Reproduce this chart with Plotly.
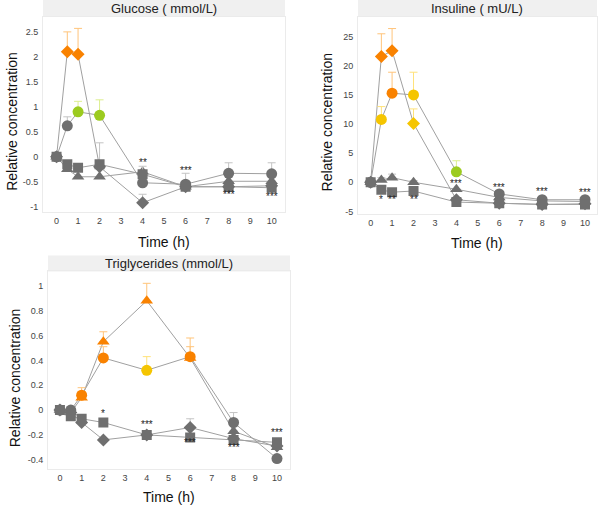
import plotly.graph_objects as go

# sampling times (h)
TIME = [0, 0.5, 1, 2, 4, 6, 8, 10]
X_TICKS = [0, 1, 2, 3, 4, 5, 6, 7, 8, 9, 10]

# point colour classes: g = grey, o = orange, y = yellow, l = lime
# --- Glucose ---
GLU_TRI = [0, -0.25, -0.4, -0.4, -0.3, -0.6, -0.49, -0.49]
GLU_TRI_ERR = [0, 0, 0, 0, 0, 0, 0, 0]
GLU_TRI_COL = ["g", "g", "g", "g", "g", "g", "g", "g"]
GLU_DIA = [0, 2.1, 2.05, -0.2, -0.92, -0.6, -0.6, -0.58]
GLU_DIA_ERR = [0, 0.4, 0.52, 0.48, 0.17, 0, 0, 0]
GLU_DIA_COL = ["g", "o", "o", "g", "g", "g", "g", "g"]
GLU_CIR = [0, 0.62, 0.9, 0.83, -0.52, -0.55, -0.33, -0.34]
GLU_CIR_ERR = [0, 0.18, 0.21, 0.31, 0, 0.22, 0.21, 0.22]
GLU_CIR_COL = ["g", "g", "l", "l", "g", "g", "g", "g"]
GLU_SQ = [0, -0.15, -0.22, -0.15, -0.35, -0.6, -0.6, -0.62]
GLU_SQ_ERR = [0, 0, 0, 0, 0.16, 0, 0, 0]
GLU_SQ_COL = ["g", "g", "g", "g", "g", "g", "g", "g"]
GLU_Y_TICKS = [-1, -0.5, 0, 0.5, 1, 1.5, 2, 2.5]
GLU_Y_LABELS = ["-1", "-0.5", "0", "0.5", "1", "1.5", "2", "2.5"]
GLU_SIG_T = [4, 6, 8, 10]
GLU_SIG_Y = [-0.12, -0.28, -0.76, -0.8]
GLU_SIG_TXT = ["**", "***", "***", "***"]

# --- Insuline ---
INS_TRI = [0, 0.4, 0.8, 0.0, -1.2, -2.6, -3.2, -3.3]
INS_TRI_ERR = [0, 0.4, 0.6, 0.3, 0, 0, 0, 0]
INS_TRI_COL = ["g", "g", "g", "g", "g", "g", "g", "g"]
INS_DIA = [0, 21.6, 22.6, 10.1, -3.0, -3.6, -3.8, -3.7]
INS_DIA_ERR = [0, 3.9, 3.8, 2.5, 0, 0, 0, 0]
INS_DIA_COL = ["g", "o", "o", "y", "g", "g", "g", "g"]
INS_CIR = [0, 10.8, 15.3, 15.0, 1.8, -2.0, -3.0, -3.0]
INS_CIR_ERR = [0, 2.2, 3.6, 3.9, 1.9, 0, 0, 0]
INS_CIR_COL = ["g", "y", "o", "y", "l", "g", "g", "g"]
INS_SQ = [0, -1.3, -1.7, -1.5, -3.4, -3.6, -3.8, -3.8]
INS_SQ_ERR = [0, 0, 0, 0, 0, 0, 0, 0]
INS_SQ_COL = ["g", "g", "g", "g", "g", "g", "g", "g"]
INS_Y_TICKS = [-5, 0, 5, 10, 15, 20, 25]
INS_Y_LABELS = ["-5", "0", "5", "10", "15", "20", "25"]
INS_SIG_T = [0.5, 1, 2, 4, 6, 8, 10]
INS_SIG_Y = [-3.0, -3.0, -3.0, -0.2, -0.9, -1.5, -1.7]
INS_SIG_TXT = ["*", "**", "**", "***", "***", "***", "***"]

# --- Triglycerides ---
TG_TRI = [0, -0.02, 0.1, 0.55, 0.88, 0.42, -0.17, -0.3]
TG_TRI_ERR = [0, 0, 0.05, 0.08, 0.14, 0.09, 0, 0]
TG_TRI_COL = ["g", "g", "o", "o", "o", "o", "g", "g"]
TG_DIA = [0, -0.02, -0.1, -0.24, -0.2, -0.14, -0.23, -0.29]
TG_DIA_ERR = [0, 0, 0, 0, 0, 0.07, 0, 0]
TG_DIA_COL = ["g", "g", "g", "g", "g", "g", "g", "g"]
TG_CIR = [0, 0, 0.12, 0.42, 0.32, 0.43, -0.1, -0.39]
TG_CIR_ERR = [0, 0, 0.06, 0.09, 0.11, 0.15, 0.08, 0]
TG_CIR_COL = ["g", "g", "o", "o", "y", "o", "g", "g"]
TG_SQ = [0, -0.05, -0.07, -0.1, -0.2, -0.22, -0.24, -0.26]
TG_SQ_ERR = [0, 0, 0, 0, 0, 0, 0, 0]
TG_SQ_COL = ["g", "g", "g", "g", "g", "g", "g", "g"]
TG_Y_TICKS = [-0.4, -0.2, 0, 0.2, 0.4, 0.6, 0.8, 1]
TG_Y_LABELS = ["-0.4", "-0.2", "0", "0.2", "0.4", "0.6", "0.8", "1"]
TG_SIG_T = [2, 4, 6, 8, 10]
TG_SIG_Y = [-0.025, -0.12, -0.265, -0.3, -0.18]
TG_SIG_TXT = ["*", "***", "***", "***", "***"]

FONT = "Liberation Sans, Arial, sans-serif"
MARKER_COLORS = {"g": "#6f6f6f", "o": "#f98200", "y": "#f5c500", "l": "#9ccb1f"}
ERR_COLORS = {"g": "#c4c4c4", "o": "#ffc47a", "y": "#ffe27a", "l": "#dcee8e"}
LINE_COLOR = "#a0a0a0"


def add_series(fig, ax, values, errors, classes, symbol, size):
    """markers + upward-only error bars, one trace per colour class"""
    for cls in ["g", "o", "y", "l"]:
        idx = [i for i, c in enumerate(classes) if c == cls]
        if not idx:
            continue
        fig.add_trace(go.Scatter(
            x=[TIME[i] for i in idx],
            y=[values[i] for i in idx],
            mode="markers",
            marker=dict(symbol=symbol, size=size, color=MARKER_COLORS[cls]),
            error_y=dict(type="data", symmetric=False,
                         array=[errors[i] for i in idx],
                         arrayminus=[0] * len(idx),
                         color=ERR_COLORS[cls], thickness=1, width=4),
            xaxis="x" + ax, yaxis="y" + ax,
            showlegend=False, hoverinfo="skip",
        ))


def add_panel(fig, ax, series, sig_t, sig_y, sig_txt):
    # connecting lines first so markers sit on top
    for values, _, _, _, _ in series:
        fig.add_trace(go.Scatter(
            x=TIME, y=values, mode="lines",
            line=dict(color=LINE_COLOR, width=1),
            xaxis="x" + ax, yaxis="y" + ax,
            showlegend=False, hoverinfo="skip",
        ))
    for values, errors, classes, symbol, size in series:
        add_series(fig, ax, values, errors, classes, symbol, size)
    for t, y, txt in zip(sig_t, sig_y, sig_txt):
        fig.add_annotation(x=t, y=y, text=txt, showarrow=False,
                           xref="x" + ax, yref="y" + ax,
                           font=dict(family=FONT, size=10, color="#222222"))


fig = go.Figure()

add_panel(fig, "", [
    (GLU_TRI, GLU_TRI_ERR, GLU_TRI_COL, "triangle-up", 11),
    (GLU_DIA, GLU_DIA_ERR, GLU_DIA_COL, "diamond", 10),
    (GLU_CIR, GLU_CIR_ERR, GLU_CIR_COL, "circle", 11),
    (GLU_SQ, GLU_SQ_ERR, GLU_SQ_COL, "square", 10),
], GLU_SIG_T, GLU_SIG_Y, GLU_SIG_TXT)

add_panel(fig, "2", [
    (INS_TRI, INS_TRI_ERR, INS_TRI_COL, "triangle-up", 11),
    (INS_DIA, INS_DIA_ERR, INS_DIA_COL, "diamond", 10),
    (INS_CIR, INS_CIR_ERR, INS_CIR_COL, "circle", 11),
    (INS_SQ, INS_SQ_ERR, INS_SQ_COL, "square", 10),
], INS_SIG_T, INS_SIG_Y, INS_SIG_TXT)

add_panel(fig, "3", [
    (TG_TRI, TG_TRI_ERR, TG_TRI_COL, "triangle-up", 11),
    (TG_DIA, TG_DIA_ERR, TG_DIA_COL, "diamond", 10),
    (TG_CIR, TG_CIR_ERR, TG_CIR_COL, "circle", 11),
    (TG_SQ, TG_SQ_ERR, TG_SQ_COL, "square", 10),
], TG_SIG_T, TG_SIG_Y, TG_SIG_TXT)

W, H = 600, 508


def px(x0, x1):
    return [x0 / W, x1 / W]


def py(top, bottom):
    return [1 - bottom / H, 1 - top / H]


def pt(x, y):
    return x / W, 1 - y / H


axis_common = dict(showgrid=False, zeroline=False, showline=True, mirror=True,
                   linecolor="#ebebeb", linewidth=1,
                   tickfont=dict(family=FONT, size=9, color="#444444"))

xcommon = dict(axis_common, tickvals=X_TICKS, ticks="")
ycommon = dict(axis_common, ticks="outside", ticklen=2, tickcolor="rgba(0,0,0,0)")

fig.update_layout(
    width=W, height=H,
    margin=dict(l=0, r=0, t=0, b=0),
    paper_bgcolor="white", plot_bgcolor="white",
    font=dict(family=FONT),
    xaxis=dict(xcommon, domain=px(43, 285), range=[-0.63, 10.62], anchor="y"),
    yaxis=dict(ycommon, domain=py(17, 213), range=[-1.1, 2.8], anchor="x",
               tickvals=GLU_Y_TICKS, ticktext=GLU_Y_LABELS),
    xaxis2=dict(xcommon, domain=px(358, 597), range=[-0.59, 10.56], anchor="y2"),
    yaxis2=dict(ycommon, domain=py(17, 215), range=[-5.4, 28.4], anchor="x2",
                tickvals=INS_Y_TICKS, ticktext=INS_Y_LABELS),
    xaxis3=dict(xcommon, domain=px(48, 290), range=[-0.55, 10.6], anchor="y3"),
    yaxis3=dict(ycommon, domain=py(273, 472), range=[-0.476, 1.116], anchor="x3",
                tickvals=TG_Y_TICKS, ticktext=TG_Y_LABELS),
)

# facet strips with titles
strips = [
    (43, 285, 0, 17, "Glucose ( mmol/L)"),
    (358, 597, 0, 17, "Insuline ( mU/L)"),
    (48, 290, 257, 273, "Triglycerides (mmol/L)"),
]
for x0, x1, top, bottom, label in strips:
    fx0, fy1 = pt(x0, top)
    fx1, fy0 = pt(x1, bottom)
    fig.add_shape(type="rect", xref="paper", yref="paper",
                  x0=fx0, x1=fx1, y0=fy0, y1=fy1,
                  fillcolor="#f0f0f0", line=dict(width=0), layer="below")
    cx, cy = pt((x0 + x1) / 2, (top + bottom) / 2)
    fig.add_annotation(x=cx, y=cy, xref="paper", yref="paper",
                       text=label, showarrow=False,
                       xanchor="center", yanchor="middle",
                       font=dict(family=FONT, size=13, color="#222222"))

# axis titles
for x, y in [(164, 243), (477.5, 244), (169, 500)]:
    cx, cy = pt(x, y)
    fig.add_annotation(x=cx, y=cy, xref="paper", yref="paper",
                       text="Time (h)", showarrow=False,
                       xanchor="center", yanchor="middle",
                       font=dict(family=FONT, size=14, color="#111111"))
for x, y in [(12, 122.5), (326.7, 122.5), (15, 380.5)]:
    cx, cy = pt(x, y)
    fig.add_annotation(x=cx, y=cy, xref="paper", yref="paper",
                       text="Relative concentration", showarrow=False,
                       textangle=-90, xanchor="center", yanchor="middle",
                       font=dict(family=FONT, size=14, color="#111111"))

# drop the default 8px page margin so the figure fills the window
fig.write_html("out.html", config={"displayModeBar": False},
               post_script="document.body.style.margin='0';")
